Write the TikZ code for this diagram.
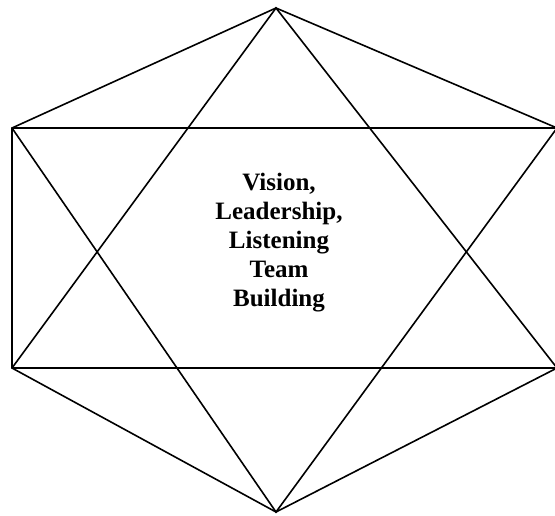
\documentclass[tikz,border=0pt]{standalone}
\usepackage{fontspec}
\setmainfont{Liberation Serif}
\tikzset{ edge/.style  = { draw
                         , line width = 1.6pt
                         , line join  = miter
                         },
          motto/.style = { align      = center
                         , inner sep  = 0pt
                         , font       = \bfseries\fontsize{25}{29}\selectfont
                         }
        }

\begin{document}
\begin{tikzpicture}[x=1pt, y=-1pt]
            \useasboundingbox (0,0) rectangle (555,515);
            % corners of the star
            \coordinate (top) at (276,8);
            \coordinate (ul)  at (12,128);
            \coordinate (ur)  at (557,128);
            \coordinate (ll)  at (12,368);
            \coordinate (lr)  at (557,368);
            \coordinate (bot) at (276,512);
            % hexagon and rectangle
            \draw[edge] (top) -- (ul) -- (ll) -- (bot) -- (lr) -- (ur) -- cycle;
            \draw[edge] (ul) -- (ur);
            \draw[edge] (ll) -- (lr);
            % the two triangles
            \draw[edge] (ll) -- (top) -- (lr);
            \draw[edge] (ul) -- (bot) -- (ur);
            \node[motto] (words) at (279,243)
                {Vision,\\Leadership,\\Listening\\Team\\Building};
\end{tikzpicture}
\end{document}
